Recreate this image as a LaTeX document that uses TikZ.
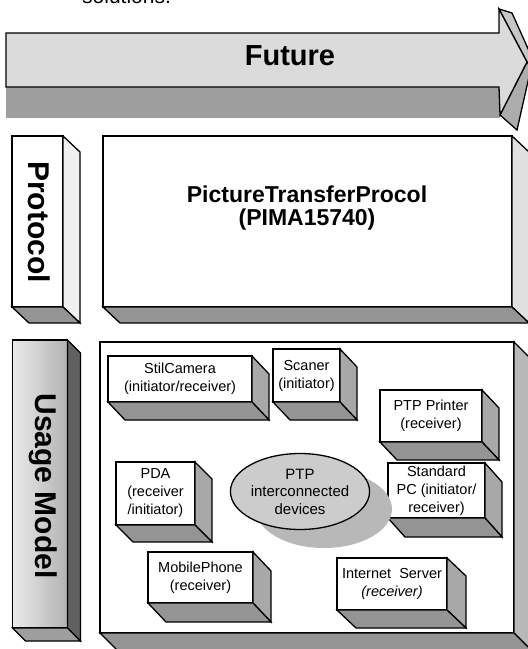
\documentclass[tikz,border=0pt]{standalone}
\usepackage{fontspec}
\setmainfont{Liberation Sans}
\usetikzlibrary{calc,shapes.geometric}
\tikzset{
  edge/.style={draw=black, line width=1.3pt, line join=miter},
  frontface/.style={edge, fill=white, inner sep=0pt, outer sep=0pt},
  devbox/.style={frontface, align=center, font=\fontsize{14.5}{18}\selectfont},
  darkface/.style={edge, fill=black!42},
  midface/.style={edge, fill=black!34},
  lightface/.style={edge, fill=black!10},
  bigtext/.style={font=\bfseries\fontsize{30}{32}\selectfont, inner sep=0pt},
}
\newcommand\extrude[5]{%
  \path[#4] (#1.north east) -- ++(#2,#3) -- ($(#1.south east)+(#2,#3)$) -- (#1.south east) -- cycle;
  \path[#5] (#1.south west) -- (#1.south east) -- ++(#2,#3) -- ($(#1.south west)+(#2,#3)$) -- cycle;
}
\begin{document}
\begin{tikzpicture}[x=1pt,y=-1pt]
\useasboundingbox (0,0) rectangle (528,649);
\clip (0,0) rectangle (528,649);
\fill[white] (0,0) rectangle (528,649);

% clipped text at the top
\node[anchor=base west, inner sep=0pt, font=\fontsize{21}{24}\selectfont] (sol) at (82,3) {solutions.};

% ---------- Future arrow ----------
\fill[black!38] (6,87) rectangle (499,118);
\path[edge, fill=black!22] (499,9) -- (512,13) -- (534,62) -- (527,62) -- cycle;
\path[edge, fill=black!32] (500,115) -- (517,130) -- (531,68) -- (527,62) -- cycle;
\path[edge, fill=black!14] (6,33) -- (499,33) -- (499,9) -- (527,62) -- (500,115) -- (499,87) -- (6,87) -- cycle;
\node[anchor=base, inner sep=0pt, font=\bfseries\fontsize{29}{30}\selectfont] (future) at (290,65) {Future};

% ---------- Protocol row ----------
\node[frontface, minimum width=51pt, minimum height=171pt] (protoside) at (37.5,221.5) {};
\extrude{protoside}{17}{16}{edge, fill=black!6}{darkface}
\node[bigtext, rotate=-90] (protolabel) at (39,222) {Protocol};

\node[frontface, minimum width=409pt, minimum height=171pt] (protomain) at (307.5,221.5) {};
\extrude{protomain}{17}{16}{edge, fill=black!12}{darkface}
\node[align=center, inner sep=0pt, font=\bfseries\fontsize{23}{23}\selectfont] (ptp) at (307,208)
  {PictureTransferProcol\\(PIMA15740)};

% ---------- Usage Model row ----------
\node[edge, inner sep=0pt, outer sep=0pt, minimum width=55pt, minimum height=288pt,
      left color=black!8, right color=black!30] (useside) at (40,484) {};
\extrude{useside}{13}{13}{edge, fill=black!62}{edge, fill=black!38}
\node[bigtext, rotate=-90] (uselabel) at (43,486) {Usage Model};

\node[frontface, minimum width=414pt, minimum height=291pt] (usemain) at (307,487.5) {};
\extrude{usemain}{17}{17}{edge, fill=black!28}{darkface}

% devices
\node[devbox, minimum width=144pt, minimum height=46pt] (cam) at (180,379) {StilCamera\\(initiator/receiver)};
\extrude{cam}{17}{18}{midface}{darkface}
\node[devbox, minimum width=67pt, minimum height=53pt] (scan) at (306.5,375.5) {Scaner\\(initiator)};
\extrude{scan}{17}{18}{midface}{darkface}
\node[devbox, minimum width=102pt, minimum height=52pt] (printer) at (431,416) {PTP Printer\\(receiver)};
\extrude{printer}{17}{18}{midface}{darkface}
\node[devbox, minimum width=79pt, minimum height=63pt] (pda) at (155.5,493.5) {PDA\\(receiver\\/initiator)};
\extrude{pda}{17}{17}{midface}{darkface}
\node[devbox, minimum width=97pt, minimum height=55pt] (stdpc) at (436.5,490.5) {Standard\\PC (initiator/\\receiver)};
\extrude{stdpc}{17}{19}{midface}{darkface}
\node[devbox, minimum width=105pt, minimum height=51pt] (mobile) at (200.5,577.5) {MobilePhone\\(receiver)};
\extrude{mobile}{18}{19}{midface}{darkface}
\node[devbox, minimum width=110pt, minimum height=52pt] (inet) at (392,584) {Internet\ \ Server\\\textit{(receiver)}};
\extrude{inet}{19}{18}{midface}{darkface}

% hub ellipse with its shadow
\fill[black!28] (324,509) ellipse [x radius=68, y radius=39];
\node[ellipse, edge, fill=black!20, inner sep=0pt, minimum width=134pt, minimum height=76pt,
      align=center, font=\fontsize{15}{17.5}\selectfont] (hub) at (300,491.5)
  {PTP\\interconnected\\devices};
\end{tikzpicture}
\end{document}
